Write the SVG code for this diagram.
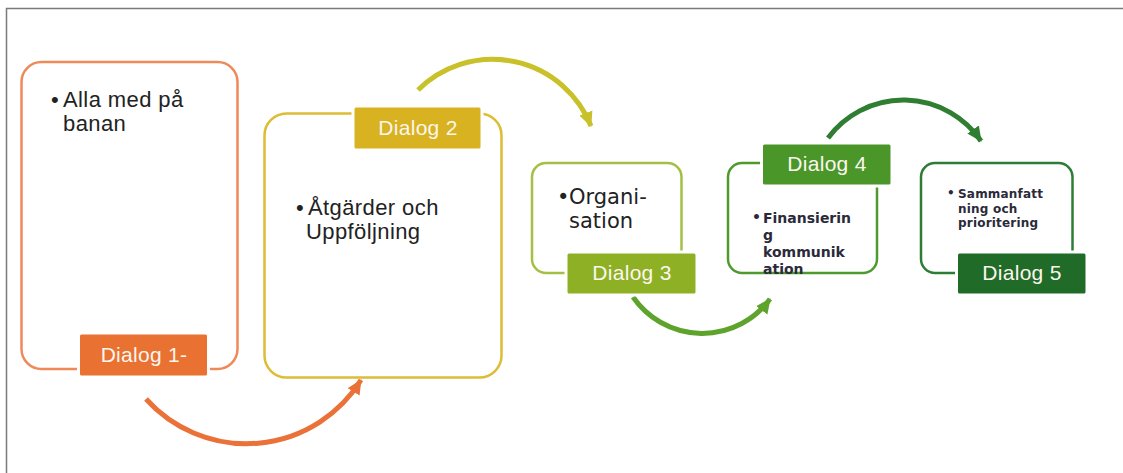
<svg xmlns="http://www.w3.org/2000/svg" width="1123" height="473" viewBox="0 0 1123 473">
  <style>
    .box { fill: #ffffff; stroke-width: 2.5; }
    .lbl { stroke: #ffffff; stroke-width: 3; }
    .lt { font-family: "Liberation Sans", Arial, sans-serif; font-size: 21px; fill: #FBF6EE; text-anchor: middle; letter-spacing: 0.3px; }
    .big { font-family: "Liberation Sans", Arial, sans-serif; font-size: 22px; fill: #222222; letter-spacing: 0.4px; }
    .mid { font-family: "DejaVu Sans", sans-serif; font-size: 21px; fill: #222222; }
    .sm { font-family: "DejaVu Sans", sans-serif; font-size: 14px; font-weight: bold; fill: #2a2a3a; }
    .xs { font-family: "DejaVu Sans", sans-serif; font-size: 12px; font-weight: bold; fill: #2a2a3a; letter-spacing: 0.2px; }
    .arc { fill: none; stroke-width: 5; }
  </style>
  <defs>
    <marker id="ahO" markerUnits="userSpaceOnUse" markerWidth="16" markerHeight="16" viewBox="0 0 16 16" refX="14" refY="8" orient="auto"><path d="M0,1 L15,8 L0,15 Z" fill="#EA7238"/></marker>
    <marker id="ahY" markerUnits="userSpaceOnUse" markerWidth="16" markerHeight="16" viewBox="0 0 16 16" refX="14" refY="8" orient="auto"><path d="M0,1 L15,8 L0,15 Z" fill="#C8C12A"/></marker>
    <marker id="ahG" markerUnits="userSpaceOnUse" markerWidth="16" markerHeight="16" viewBox="0 0 16 16" refX="14" refY="8" orient="auto"><path d="M0,1 L15,8 L0,15 Z" fill="#5EA32C"/></marker>
    <marker id="ahD" markerUnits="userSpaceOnUse" markerWidth="16" markerHeight="16" viewBox="0 0 16 16" refX="14" refY="8" orient="auto"><path d="M0,1 L15,8 L0,15 Z" fill="#2F7E32"/></marker>
  </defs>
  <rect x="0" y="0" width="1123" height="473" fill="#ffffff"/>
  <path d="M6.5,473 V8.5 H1123" fill="none" stroke="#7a7a7a" stroke-width="1.5"/>

  <g id="connectors">
    <path class="arc" d="M146,399 A135,135 0 0 0 361,380" stroke="#EA7238" marker-end="url(#ahO)"/>
    <path class="arc" d="M418,90 A106,106 0 0 1 591,126" stroke="#C8C12A" marker-end="url(#ahY)"/>
    <path class="arc" d="M633,297 A84,84 0 0 0 770,299" stroke="#5EA32C" marker-end="url(#ahG)"/>
    <path class="arc" d="M828,138 A94,94 0 0 1 981,141" stroke="#2F7E32" marker-end="url(#ahD)"/>
  </g>

  <g id="node1">
    <rect class="box" x="21.5" y="62" width="216" height="307" rx="20" stroke="#EE8A5A"/>
    <text class="big"><tspan x="51" y="107">•</tspan><tspan x="63" y="107">Alla med på</tspan><tspan x="63" y="131">banan</tspan></text>
    <rect class="lbl" x="78.5" y="333" width="130" height="44" rx="3" fill="#E97132"/>
    <text class="lt" x="144" y="362">Dialog 1-</text>
  </g>

  <g id="node2">
    <rect class="box" x="264.5" y="113.5" width="237" height="264" rx="22" stroke="#DCBD35"/>
    <rect class="lbl" x="353" y="106" width="129" height="44" rx="3" fill="#D8B220"/>
    <text class="lt" x="418" y="135">Dialog 2</text>
    <text class="big"><tspan x="296" y="215">•</tspan><tspan x="308" y="215">Åtgärder och</tspan><tspan x="306" y="239">Uppföljning</tspan></text>
  </g>

  <g id="node3">
    <rect class="box" x="532" y="163" width="149.5" height="110" rx="14" stroke="#A3C045"/>
    <text class="mid"><tspan x="557" y="204">•</tspan><tspan x="569" y="204">Organi-</tspan><tspan x="569" y="228">sation</tspan></text>
    <rect class="lbl" x="566" y="252" width="131" height="43" rx="3" fill="#8DB025"/>
    <text class="lt" x="632" y="280">Dialog 3</text>
  </g>

  <g id="node4">
    <rect class="box" x="728" y="163" width="149" height="110" rx="14" stroke="#4F9A2E"/>
    <rect class="lbl" x="761.5" y="143" width="130.5" height="43" rx="3" fill="#4A9628"/>
    <text class="lt" x="827" y="171">Dialog 4</text>
    <text class="sm"><tspan x="752" y="222">•</tspan><tspan x="763" y="223">Finansierin</tspan><tspan x="763" y="240">g</tspan><tspan x="763" y="257">kommunik</tspan><tspan x="763" y="274">ation</tspan></text>
  </g>

  <g id="node5">
    <rect class="box" x="921" y="163" width="151.5" height="110" rx="14" stroke="#2E7D36"/>
    <text class="xs"><tspan x="947" y="197">•</tspan><tspan x="958" y="198">Sammanfatt</tspan><tspan x="958" y="213">ning och</tspan><tspan x="958" y="227">prioritering</tspan></text>
    <rect class="lbl" x="956.5" y="252" width="130.5" height="43" rx="3" fill="#1F6B27"/>
    <text class="lt" x="1022" y="280">Dialog 5</text>
  </g>
</svg>
